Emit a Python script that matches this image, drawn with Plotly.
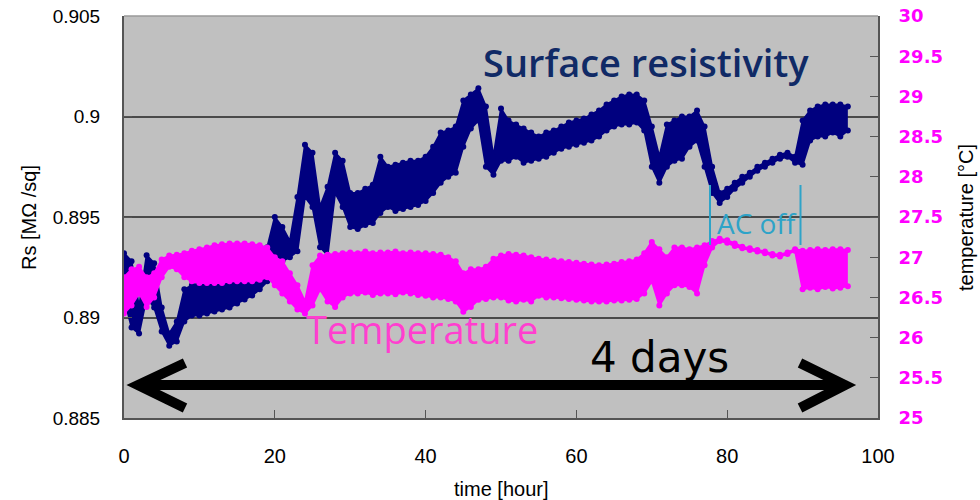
import plotly.graph_objects as go

# ---- data (hourly envelope of the dense point cloud) ----
hours = list(range(97))

rs_lo = [0.8910, 0.8895, 0.8892, 0.8910, 0.8905, 0.8893, 0.8886, 0.8888, 0.8898, 0.8901,
         0.8901, 0.8902, 0.8903, 0.8904, 0.8905, 0.8907, 0.8909, 0.8911, 0.8914, 0.8918,
         0.8925, 0.8928, 0.8930, 0.8933, 0.8960, 0.8955, 0.8935, 0.8931, 0.8962, 0.8955,
         0.8945, 0.8944, 0.8946, 0.8947, 0.8952, 0.8955, 0.8953, 0.8954, 0.8955, 0.8956,
         0.8958, 0.8962, 0.8967, 0.8970, 0.8972, 0.8985, 0.8994, 0.8998, 0.8975, 0.8971,
         0.8978, 0.8978, 0.8980, 0.8977, 0.8978, 0.8979, 0.8980, 0.8982, 0.8984, 0.8985,
         0.8986, 0.8987, 0.8988, 0.8990, 0.8993, 0.8995, 0.8996, 0.8996, 0.8997, 0.8993,
         0.8975, 0.8967, 0.8975, 0.8978, 0.8979, 0.8985, 0.8988, 0.8975, 0.8962, 0.8957,
         0.8960, 0.8964, 0.8967, 0.8970, 0.8973, 0.8975, 0.8977, 0.8979, 0.8980, 0.8977,
         0.8976, 0.8988, 0.8990, 0.8990, 0.8992, 0.8990, 0.8993]

rs_hi = [0.8932, 0.8928, 0.8905, 0.8931, 0.8927, 0.8905, 0.8892, 0.8898, 0.8914, 0.8916,
         0.8917, 0.8918, 0.8919, 0.8920, 0.8921, 0.8922, 0.8923, 0.8924, 0.8926, 0.8935,
         0.8950, 0.8945, 0.8938, 0.8960, 0.8986, 0.8982, 0.8955, 0.8965, 0.8982, 0.8978,
         0.8962, 0.8962, 0.8964, 0.8966, 0.8980, 0.8975, 0.8976, 0.8977, 0.8978, 0.8978,
         0.8980, 0.8985, 0.8992, 0.8993, 0.8995, 0.9008, 0.9011, 0.9014, 0.9005, 0.8980,
         0.9004, 0.8998, 0.8996, 0.8994, 0.8992, 0.8990, 0.8992, 0.8993, 0.8995, 0.8997,
         0.8998, 0.8999, 0.9001, 0.9003, 0.9006, 0.9008, 0.9010, 0.9011, 0.9011, 0.9008,
         0.8995, 0.8980, 0.8996, 0.8998, 0.9000, 0.9000, 0.9003, 0.8995, 0.8975, 0.8962,
         0.8964, 0.8967, 0.8970, 0.8972, 0.8975, 0.8977, 0.8979, 0.8981, 0.8982, 0.8980,
         0.8998, 0.9003, 0.9005, 0.9006, 0.9006, 0.9006, 0.9005]

temp_lo = [26.30, 26.40, 26.55, 26.38, 26.50, 26.75, 26.88, 26.85, 26.75, 26.70,
           26.68, 26.68, 26.68, 26.68, 26.70, 26.70, 26.70, 26.70, 26.72, 26.75,
           26.65, 26.55, 26.45, 26.35, 26.30, 26.40, 26.60, 26.45, 26.38, 26.50,
           26.55, 26.55, 26.56, 26.53, 26.55, 26.55, 26.54, 26.56, 26.55, 26.53,
           26.52, 26.50, 26.50, 26.48, 26.45, 26.32, 26.38, 26.47, 26.48, 26.50,
           26.50, 26.46, 26.45, 26.47, 26.45, 26.52, 26.50, 26.50, 26.49, 26.48,
           26.47, 26.46, 26.45, 26.45, 26.45, 26.46, 26.46, 26.47, 26.48, 26.55,
           26.70, 26.40, 26.55, 26.65, 26.65, 26.63, 26.55, 26.90, 27.12, 27.20,
           27.18, 27.14, 27.11, 27.09, 27.07, 27.05, 27.02, 27.01, 27.04, 27.08,
           26.60, 26.62, 26.60, 26.63, 26.61, 26.62, 26.64]

temp_hi = [26.75, 26.85, 26.88, 26.75, 26.80, 26.97, 27.02, 27.03, 27.05, 27.08,
           27.10, 27.12, 27.15, 27.16, 27.17, 27.17, 27.17, 27.16, 27.15, 27.12,
           27.00, 26.95, 26.80, 26.65, 26.45, 26.90, 27.02, 27.03, 27.04, 27.05,
           27.06, 27.05, 27.07, 27.05, 27.06, 27.06, 27.07, 27.05, 27.06, 27.05,
           27.05, 27.04, 27.03, 27.00, 26.95, 26.80, 26.85, 26.85, 26.88, 26.98,
           27.02, 27.04, 27.03, 27.02, 27.00, 26.98, 26.97, 26.96, 26.95, 26.94,
           26.93, 26.92, 26.91, 26.90, 26.91, 26.92, 26.94, 26.95, 26.97, 27.05,
           27.19, 27.10, 27.00, 27.12, 27.12, 27.10, 27.12, 27.15, 27.20, 27.23,
           27.21, 27.17, 27.13, 27.11, 27.09, 27.07, 27.04, 27.03, 27.06, 27.10,
           27.08, 27.09, 27.10, 27.09, 27.10, 27.10, 27.09]

x_ticks = [0, 20, 40, 60, 80, 100]
rs_ticks = [0.885, 0.89, 0.895, 0.9, 0.905]
temp_ticks = [25, 25.5, 26, 26.5, 27, 27.5, 28, 28.5, 29, 29.5, 30]

NAVY = "#00007f"
MAG = "#ff00ff"

fig = go.Figure()


def band(lo, hi, color, axis):
    fig.add_trace(go.Scatter(x=hours, y=hi, mode="lines+markers", yaxis=axis,
                             line=dict(color=color, width=2),
                             marker=dict(color=color, size=6)))
    fig.add_trace(go.Scatter(x=hours, y=lo, mode="lines+markers", yaxis=axis,
                             fill="tonexty", fillcolor=color,
                             line=dict(color=color, width=2),
                             marker=dict(color=color, size=6)))


band(rs_lo, rs_hi, NAVY, "y")
band(temp_lo, temp_hi, MAG, "y2")


# pixel helpers for decorations (plot area: 124..878 x 16..418)
def hx(px):
    return (px - 124) / 754 * 100


def ry_(py):
    return 0.905 - (py - 16) / 402 * 0.02


AXC = "#555555"
fig.update_layout(
    width=980, height=500,
    margin=dict(l=124, r=102, t=16, b=82, autoexpand=False),
    paper_bgcolor="white", plot_bgcolor="#c0c0c0",
    showlegend=False, hovermode=False,
    font=dict(family="Liberation Sans, Arial", color="black"),
    xaxis=dict(range=[0, 100], tickvals=x_ticks, ticks="inside", ticklen=8,
               tickcolor=AXC, showline=True, linecolor=AXC, linewidth=2,
               showgrid=False, zeroline=False, tickfont=dict(size=20),
               ticklabelstandoff=19, automargin=False, ticklabeloverflow="allow"),
    yaxis=dict(range=[0.885, 0.905], tickvals=rs_ticks, ticks="inside", ticklen=8,
               tickcolor=AXC, showline=True, linecolor=AXC, linewidth=2,
               showgrid=True, gridcolor="#4a4a4a", gridwidth=1.5, zeroline=False,
               tickfont=dict(size=19), ticklabelstandoff=18, automargin=False,
               ticklabeloverflow="allow"),
    yaxis2=dict(range=[25, 30], tickvals=temp_ticks, overlaying="y", side="right",
                ticks="inside", ticklen=8, tickcolor=AXC, showline=True,
                linecolor=AXC, linewidth=2, showgrid=False, zeroline=False,
                tickfont=dict(family="DejaVu Sans", size=18, color=MAG, weight="bold"),
                ticklabelstandoff=15, automargin=False, ticklabeloverflow="allow"),
)

C = dict(xanchor="center", yanchor="middle", showarrow=False)
annotations = [
    dict(text="Rs [MΩ /sq]", x=-0.126, y=0.5, xref="paper", yref="paper",
         textangle=-90, font=dict(size=20), **C),
    dict(text="temperature [°C]", x=1.1167, y=0.5, xref="paper", yref="paper",
         textangle=-90, font=dict(size=20), **C),
    dict(text="time [hour]", x=0.5, y=-0.1766, xref="paper", yref="paper",
         font=dict(size=20), **C),
    dict(text="Surface resistivity", x=hx(646), y=ry_(62),
         font=dict(family="Open Sans", size=38, color="#102a66", weight=600), **C),
    dict(text="Temperature", x=hx(422), y=ry_(329),
         font=dict(family="Open Sans", size=38, color="#ff3fcf"), **C),
    dict(text="4 days", x=hx(659), y=ry_(357),
         font=dict(family="DejaVu Sans", size=42, color="black"), **C),
    dict(text="AC off", x=hx(757), y=ry_(223),
         font=dict(family="Open Sans", size=28, color="#2ea3c8"), **C),
]
fig.update_layout(annotations=annotations)

ya, yt, yb = ry_(385), ry_(363), ry_(408)
arrow_path = (f"M {hx(185)},{yt} L {hx(138)},{ya} L {hx(185)},{yb} "
              f"M {hx(140)},{ya} L {hx(844)},{ya} "
              f"M {hx(800)},{yt} L {hx(845)},{ya} L {hx(800)},{yb}")
shapes = [
    dict(type="path", path=arrow_path, xref="x", yref="y",
         line=dict(color="black", width=10)),
    dict(type="line", x0=hx(710), x1=hx(710), y0=ry_(185), y1=ry_(245),
         xref="x", yref="y", line=dict(color="#2ea3c8", width=2)),
    dict(type="line", x0=hx(800.5), x1=hx(800.5), y0=ry_(185), y1=ry_(245),
         xref="x", yref="y", line=dict(color="#2ea3c8", width=2)),
    dict(type="line", x0=0, x1=1, y0=1, y1=1, xref="paper", yref="paper",
         line=dict(color="#9a9a9a", width=1.5)),
]
fig.update_layout(shapes=shapes)

# remove the default 8px page margin so the figure fills the 980x500 window exactly
fig.write_html("out.html", config={"displayModeBar": False},
               post_script="document.body.style.margin='0px';")
